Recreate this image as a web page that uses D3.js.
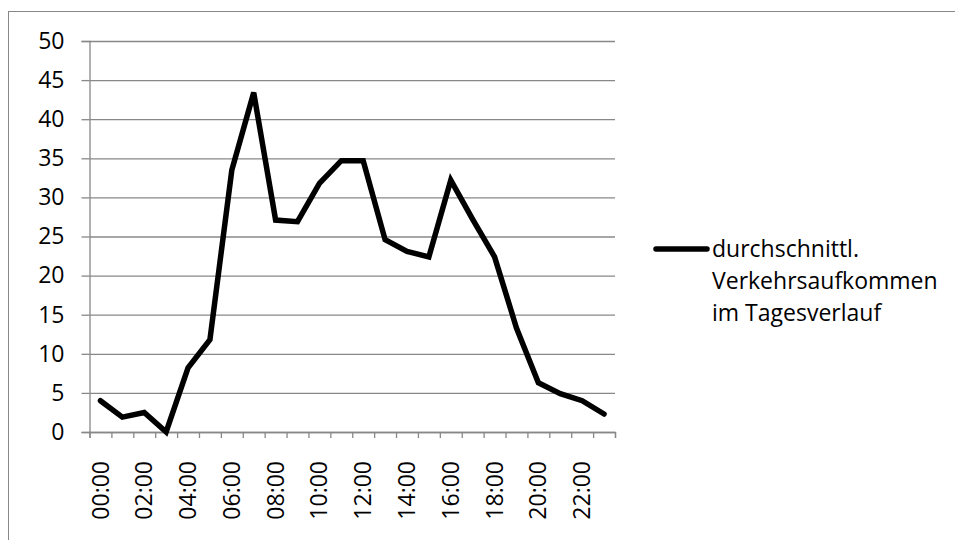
<!DOCTYPE html>
<html>
<head>
<meta charset="utf-8">
<script src="https://cdn.jsdelivr.net/npm/d3@7"></script>
<style>
  body { margin: 0; background: #fff; }
  svg { display: block; }
  text { font-family: "Open Sans", Lato, sans-serif; fill: #000; }
</style>
</head>
<body>
<div id="chart"></div>
<script>
// hours of the day (categories)
const hours = d3.range(24).map(h => String(h).padStart(2, "0") + ":00")
// average traffic per hour
const traffic = [4.0, 1.9, 2.5, 0.0, 8.2, 11.8, 33.5, 43.4, 27.1, 26.9, 31.8, 34.7,
                 34.7, 24.6, 23.1, 22.4, 32.2, 27.2, 22.4, 13.3, 6.3, 4.9, 4.0, 2.3]
const yTicks = [0, 5, 10, 15, 20, 25, 30, 35, 40, 45, 50]
const labelHours = hours.filter((_, i) => i % 2 === 0)
const seriesName = ["durchschnittl.", "Verkehrsaufkommen", "im Tagesverlauf"]

const W = 955, H = 540
const margin = {top: 41, left: 89.5, right: 340, bottom: 108}
const width = W - margin.left - margin.right
const height = H - margin.top - margin.bottom
const fontSize = "23px"

const svg = d3.select("#chart").append("svg")
  .attr("width", W)
  .attr("height", H)

// chart frame (cut off at right and bottom like the original)
svg.append("rect")
  .attr("x", 8.5).attr("y", 11.5)
  .attr("width", 1000).attr("height", 600)
  .attr("fill", "none")
  .attr("stroke", "#888")
  .attr("stroke-width", 1)

const g = svg.append("g")
  .attr("transform", "translate(" + margin.left + "," + margin.top + ")")

const x = d3.scaleBand()
  .domain(hours)
  .range([0, width])
  .padding(0)

const xEdge = d3.scaleLinear()
  .domain([0, hours.length])
  .range([0, width])

const y = d3.scaleLinear()
  .domain([0, 50])
  .range([height, 0])

// gridlines
g.append("g")
  .attr("class", "grid")
  .call(d3.axisLeft(y).tickValues(yTicks).tickSize(-width).tickFormat(""))
  .call(s => s.select(".domain").remove())
  .call(s => s.selectAll("line").attr("stroke", "#888").attr("stroke-width", 1.3))

// y axis
g.append("g")
  .call(d3.axisLeft(y).tickValues(yTicks).tickSize(8).tickPadding(17))
  .call(s => s.select(".domain").attr("stroke", "#888").attr("stroke-width", 1.3))
  .call(s => s.selectAll("line").attr("stroke", "#888").attr("stroke-width", 1.3))
  .call(s => s.selectAll("text").style("font-size", fontSize).attr("font-family", null))

// x axis tick marks between categories
g.append("g")
  .attr("transform", "translate(0," + height + ")")
  .call(d3.axisBottom(xEdge).tickValues(d3.range(hours.length + 1)).tickSize(6).tickFormat(""))
  .call(s => s.select(".domain").attr("stroke", "#888").attr("stroke-width", 1.3))
  .call(s => s.selectAll("line").attr("stroke", "#888").attr("stroke-width", 1.3))

// x axis labels, rotated
g.append("g")
  .attr("transform", "translate(0," + height + ")")
  .call(d3.axisBottom(x).tickValues(labelHours).tickSize(0))
  .call(s => s.select(".domain").remove())
  .call(s => s.selectAll("text")
    .style("font-size", fontSize)
    .attr("font-family", null)
    .attr("text-anchor", "end")
    .attr("dy", "0.35em")
    .attr("transform", "translate(0,29) rotate(-90)")
    .attr("x", 0).attr("y", 0))

// the line
const line = d3.line()
  .x((d, i) => x(hours[i]) + x.bandwidth() / 2)
  .y(d => y(d))

g.append("path")
  .datum(traffic)
  .attr("fill", "none")
  .attr("stroke", "#000")
  .attr("stroke-width", 5.5)
  .attr("stroke-linejoin", "miter")
  .attr("stroke-linecap", "round")
  .attr("d", line)

// legend
const legend = svg.append("g")
  .attr("transform", "translate(656,249)")

legend.append("line")
  .attr("x1", 0).attr("x2", 51)
  .attr("y1", 0).attr("y2", 0)
  .attr("stroke", "#000")
  .attr("stroke-width", 5.5)
  .attr("stroke-linecap", "round")

legend.selectAll("text.lbl")
  .data(seriesName)
  .enter()
  .append("text")
    .attr("class", "lbl")
    .attr("x", 56)
    .attr("y", (_, i) => i * 32)
    .attr("dy", "0.35em")
    .style("font-size", fontSize)
    .text(d => d)
</script>
</body>
</html>
